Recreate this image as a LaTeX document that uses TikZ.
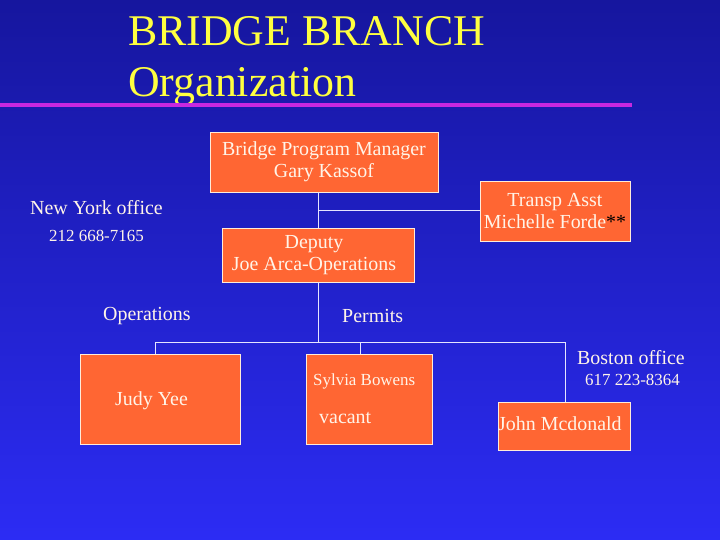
\documentclass[tikz,border=0pt]{standalone}
\usepackage{fontspec}
\setmainfont{Liberation Serif}
\newfontfamily\tnr{Liberation Serif}
\begin{document}
\begin{tikzpicture}[x=1bp,y=-1bp,
  box/.style={draw=white!85!orange,fill=boxor,line width=0.8bp},
  lab/.style={text=txt,font=\tnr\fontsize{20}{22}\selectfont,inner sep=0pt,align=center},
  small/.style={text=txt,font=\tnr\fontsize{17}{19}\selectfont,inner sep=0pt},
  conn/.style={draw=white!90!blue,line width=0.8bp}]
\definecolor{boxor}{HTML}{FF6633}
\definecolor{txt}{HTML}{FFF4E8}
\definecolor{bgtop}{HTML}{16169E}
\definecolor{bgbot}{HTML}{2C2CF4}
\definecolor{ttl}{HTML}{FFFF40}
\definecolor{mag}{HTML}{C828E0}
\shade[top color=bgtop,bottom color=bgbot] (0,0) rectangle (720,540);
\useasboundingbox (0,0) rectangle (720,540);
\node[anchor=base west,text=ttl,font=\tnr\fontsize{44}{46}\selectfont,inner sep=0pt] (t1) at (128,46) {BRIDGE BRANCH};
\node[anchor=base west,text=ttl,font=\tnr\fontsize{44}{46}\selectfont,inner sep=0pt] (t2) at (128,97) {Organization};
\fill[mag] (0,103) rectangle (632,107);
% boxes
\draw[box] (210,132) rectangle (438,192); \node[lab] (mgr) at (324,162) {Bridge Program Manager\\Gary Kassof};
\coordinate (mgrb) at (318,192);
\draw[box] (480,181) rectangle (630,241); \node[lab] (tr) at (555,211) {Transp Asst\\Michelle Forde\textcolor{black}{**}};
\coordinate (trl) at (480,210);
\draw[conn] (mgrb) -- (318,342);
\draw[conn] (318,210) -- (trl);
\draw[box] (222,228) rectangle (414,282); \node[lab] (dep) at (314,255) {Deputy\\Joe Arca-Operations};
\draw[conn] (318,282) -- (318,342);
\draw[conn] (155,354) -- (155,342) -- (565,342) -- (565,402);
\draw[conn] (360,342) -- (360,354);
\draw[box] (80,354) rectangle (240,444);
\draw[box] (306,354) rectangle (432,444);
\draw[box] (498,402) rectangle (630,450);
\node[lab,anchor=west] (judy) at (115,401) {Judy Yee};
\node[small,anchor=west] (syl) at (313,381) {Sylvia Bowens};
\node[lab,anchor=west] (vac) at (319,418) {vacant};
\node[lab,anchor=west] (john) at (498,424) {John Mcdonald};
% free labels
\node[lab,anchor=west] (ny) at (30,208) {New York office};
\node[small,anchor=west] (nyp) at (49,236) {212 668-7165};
\node[lab,anchor=west] (ops) at (103,316) {Operations};
\node[lab,anchor=west] (per) at (342,316) {Permits};
\node[lab,anchor=west] (bo) at (577,358) {Boston office};
\node[small,anchor=west] (bop) at (585,380) {617 223-8364};
\end{tikzpicture}
\end{document}
